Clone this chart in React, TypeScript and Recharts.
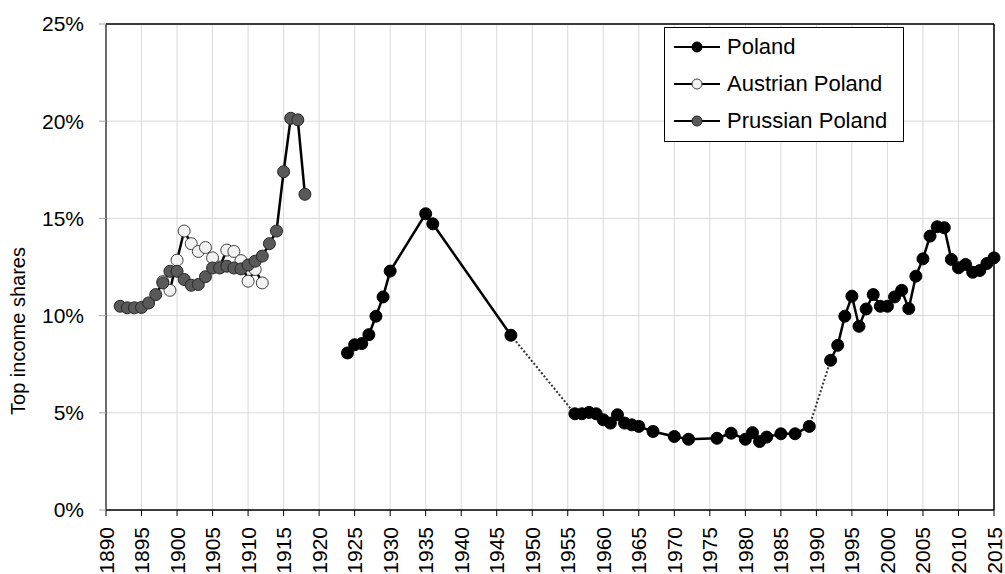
import React from 'react';
import {
  LineChart,
  Line,
  XAxis,
  YAxis,
  CartesianGrid,
  Legend,
  ReferenceLine,
  Label,
} from 'recharts';

// Poland, three observed periods (gaps bridged by dotted lines)
const interwarYears = [1924, 1925, 1926, 1927, 1928, 1929, 1930, 1935, 1936, 1947];
const interwarShares = [8.08, 8.5, 8.56, 9.02, 9.97, 10.96, 12.29, 15.24, 14.72, 8.99];

const communistYears = [
  1956, 1957, 1958, 1959, 1960, 1961, 1962, 1963, 1964, 1965, 1967,
  1970, 1972, 1976, 1978, 1980, 1981, 1982, 1983, 1985, 1987, 1989,
];
const communistShares = [
  4.95, 4.95, 5.02, 4.95, 4.64, 4.47, 4.9, 4.47, 4.38, 4.3, 4.04,
  3.78, 3.64, 3.69, 3.95, 3.64, 3.98, 3.52, 3.75, 3.92, 3.92, 4.3,
];

const transitionYears = [
  1992, 1993, 1994, 1995, 1996, 1997, 1998, 1999, 2000, 2001, 2002, 2003,
  2004, 2005, 2006, 2007, 2008, 2009, 2010, 2011, 2012, 2013, 2014, 2015,
];
const transitionShares = [
  7.7, 8.47, 9.97, 11.0, 9.45, 10.34, 11.08, 10.48, 10.48, 10.96, 11.3, 10.36,
  12.03, 12.92, 14.09, 14.57, 14.52, 12.89, 12.46, 12.63, 12.23, 12.32, 12.68, 12.97,
];

const austrianYears = [
  1898, 1899, 1900, 1901, 1902, 1903, 1904, 1905, 1906, 1907, 1908, 1909, 1910, 1911, 1912,
];
const austrianShares = [
  11.75, 11.3, 12.85, 14.35, 13.7, 13.3, 13.5, 12.97, 12.5, 13.37, 13.3, 12.83, 11.77, 12.37, 11.68,
];

const prussianYears = [
  1892, 1893, 1894, 1895, 1896, 1897, 1898, 1899, 1900, 1901, 1902, 1903, 1904, 1905,
  1906, 1907, 1908, 1909, 1910, 1911, 1912, 1913, 1914, 1915, 1916, 1917, 1918,
];
const prussianShares = [
  10.48, 10.4, 10.4, 10.42, 10.65, 11.08, 11.68, 12.28, 12.28, 11.86, 11.56, 11.6, 12.0, 12.45,
  12.45, 12.54, 12.45, 12.4, 12.6, 12.8, 13.06, 13.7, 14.35, 17.4, 20.15, 20.07, 16.24,
];

const seriesNames = ['Poland', 'Austrian Poland', 'Prussian Poland'];

const yearTicks = [
  1890, 1895, 1900, 1905, 1910, 1915, 1920, 1925, 1930, 1935, 1940, 1945, 1950, 1955,
  1960, 1965, 1970, 1975, 1980, 1985, 1990, 1995, 2000, 2005, 2010, 2015,
];
const shareTicks = [0, 5, 10, 15, 20, 25];

const FONT = '"Liberation Sans", Arial, sans-serif';

const toPoints = (years: number[], shares: number[]) =>
  years.map((year, i) => ({ year, share: shares[i] }));

const interwar = toPoints(interwarYears, interwarShares);
const communist = toPoints(communistYears, communistShares);
const transition = toPoints(transitionYears, transitionShares);

// null rows break the solid line across the missing years
const polandData = [
  ...interwar,
  { year: 1950, share: null },
  ...communist,
  { year: 1990, share: null },
  ...transition,
];
const bridge1 = [interwar[interwar.length - 1], communist[0]];
const bridge2 = [communist[communist.length - 1], transition[0]];

const austrianData = toPoints(austrianYears, austrianShares);
const prussianData = toPoints(prussianYears, prussianShares);

const markerStyle: Record<string, { fill: string; stroke: string }> = {
  Poland: { fill: '#000000', stroke: '#000000' },
  'Austrian Poland': { fill: '#f2f2f2', stroke: '#404040' },
  'Prussian Poland': { fill: '#595959', stroke: '#262626' },
};

const YearTick = ({ x, y, payload }: any) => (
  <text
    x={x}
    y={y}
    transform={`rotate(-90, ${x}, ${y})`}
    textAnchor="end"
    dominantBaseline="central"
    fontSize={21}
    fontFamily={FONT}
    fill="#000"
  >
    {payload.value}
  </text>
);

// fixed order as in the original legend; the bridge lines are left out
const LegendBox = () => (
  <div
    style={{
      width: 240,
      height: 115,
      boxSizing: 'border-box',
      border: '1.5px solid #000',
      background: '#fff',
      fontFamily: FONT,
      fontSize: 22,
      color: '#000',
    }}
  >
    {seriesNames.map((name) => {
      const m = markerStyle[name];
      return (
        <div key={name} style={{ height: 37, display: 'flex', alignItems: 'center' }}>
          <svg width={62} height={20} style={{ flex: 'none' }}>
            <line x1={9} y1={10} x2={55} y2={10} stroke="#000" strokeWidth={2} />
            <circle cx={32} cy={10} r={5} fill={m.fill} stroke={m.stroke} strokeWidth={1} />
          </svg>
          <span>{name}</span>
        </div>
      );
    })}
  </div>
);

const YTitle = () => (
  <text
    x={18}
    y={331}
    transform="rotate(-90, 18, 331)"
    textAnchor="middle"
    dominantBaseline="central"
    fontSize={20}
    fontFamily={FONT}
    fill="#000"
  >
    Top income shares
  </text>
);

export default function App() {
  return (
    <div style={{ position: 'absolute', left: 0, top: 0, background: '#fff' }}>
      <LineChart width={1005} height={574} margin={{ top: 24, right: 11, bottom: 0, left: 0 }}>
        <CartesianGrid stroke="#d9d9d9" strokeWidth={1} />
        <XAxis
          dataKey="year"
          type="number"
          domain={[1890, 2015]}
          ticks={yearTicks}
          interval={0}
          height={64}
          tickSize={6}
          tickMargin={11}
          tick={<YearTick />}
          axisLine={{ stroke: '#000', strokeWidth: 1.5 }}
          tickLine={{ stroke: '#000' }}
          allowDuplicatedCategory={false}
        />
        <YAxis
          type="number"
          domain={[0, 25]}
          ticks={shareTicks}
          interval={0}
          width={106}
          tickSize={7}
          tickMargin={15}
          tickFormatter={(v: number) => `${v}%`}
          tick={{ fontSize: 21, fontFamily: FONT, fill: '#000' }}
          axisLine={{ stroke: '#404040', strokeWidth: 1.5 }}
          tickLine={{ stroke: '#a6a6a6' }}
        >
          <Label content={<YTitle />} />
        </YAxis>
        <ReferenceLine y={25} stroke="#000" strokeWidth={1.5} />
        <ReferenceLine x={2015} stroke="#000" strokeWidth={1.5} />

        <Line
          data={bridge1}
          dataKey="share"
          stroke="#333"
          strokeWidth={2}
          strokeDasharray="2 2"
          dot={false}
          activeDot={false}
          legendType="none"
          isAnimationActive={false}
        />
        <Line
          data={bridge2}
          dataKey="share"
          stroke="#333"
          strokeWidth={2}
          strokeDasharray="2 2"
          dot={false}
          activeDot={false}
          legendType="none"
          isAnimationActive={false}
        />
        <Line
          name={seriesNames[0]}
          data={polandData}
          dataKey="share"
          stroke="#000"
          strokeWidth={2.5}
          dot={{ r: 6, fill: '#000', stroke: '#000', strokeWidth: 1 }}
          activeDot={false}
          connectNulls={false}
          isAnimationActive={false}
        />
        <Line
          name={seriesNames[1]}
          data={austrianData}
          dataKey="share"
          stroke="#000"
          strokeWidth={2.5}
          dot={{ r: 6, fill: '#f2f2f2', stroke: '#404040', strokeWidth: 1 }}
          activeDot={false}
          isAnimationActive={false}
        />
        <Line
          name={seriesNames[2]}
          data={prussianData}
          dataKey="share"
          stroke="#000"
          strokeWidth={2.5}
          dot={{ r: 6, fill: '#595959', stroke: '#262626', strokeWidth: 1 }}
          activeDot={false}
          isAnimationActive={false}
        />
        <Legend
          layout="vertical"
          align="center"
          verticalAlign="middle"
          content={<LegendBox />}
          wrapperStyle={{ position: 'absolute', left: 664, top: 27, width: 240, height: 115 }}
        />
      </LineChart>
    </div>
  );
}
